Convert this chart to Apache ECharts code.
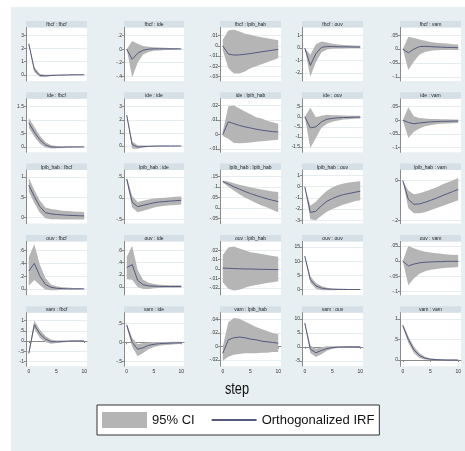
<!DOCTYPE html>
<html><head><meta charset="utf-8">
<script src="https://cdn.jsdelivr.net/npm/echarts@6/dist/echarts.min.js"></script>
<style>html,body{margin:0;padding:0;background:#fff}#c{width:465px;height:451px}</style>
</head><body><div id="c"></div>
<script>
const variables = ['fbcf', 'ide', 'lpib_hab', 'ouv', 'vam'];
const steps = ['0', '1', '2', '3', '4', '5', '6', '7', '8', '9', '10'];

// impulse fbcf
const irf_fbcf_fbcf = [2.35, 0.4, -0.05, -0.08, -0.05, -0.03, -0.02, -0.01, 0, 0, 0];
const lo_fbcf_fbcf = [2.28, 0.22, -0.17, -0.15, -0.1, -0.07, -0.05, -0.04, -0.03, -0.02, -0.02];
const hi_fbcf_fbcf = [2.42, 0.6, 0.07, 0.0, 0.0, 0.01, 0.01, 0.01, 0.02, 0.02, 0.02];
const irf_fbcf_ide = [0, -0.15, -0.06, -0.015, 0.0, 0.005, 0.005, 0.005, 0.005, 0.003, 0.003];
const lo_fbcf_ide = [0, -0.42, -0.2, -0.08, -0.04, -0.025, -0.018, -0.014, -0.012, -0.01, -0.01];
const hi_fbcf_ide = [0, 0.12, 0.08, 0.045, 0.035, 0.028, 0.024, 0.021, 0.019, 0.017, 0.016];
const irf_fbcf_lpib_hab = [0, -0.008, -0.009, -0.0088, -0.0082, -0.0075, -0.0067, -0.0058, -0.005, -0.0042, -0.0035];
const lo_fbcf_lpib_hab = [-0.004, -0.022, -0.027, -0.027, -0.025, -0.022, -0.02, -0.018, -0.016, -0.014, -0.012];
const hi_fbcf_lpib_hab = [0.006, 0.015, 0.016, 0.014, 0.012, 0.011, 0.0095, 0.0085, 0.0075, 0.0065, 0.0055];
const irf_fbcf_ouv = [0, -1.4, -0.45, 0.05, 0.12, 0.12, 0.1, 0.1, 0.09, 0.08, 0.08];
const lo_fbcf_ouv = [0, -2.3, -1.15, -0.35, -0.12, -0.06, -0.04, -0.03, -0.02, -0.02, -0.02];
const hi_fbcf_ouv = [0, -0.55, 0.3, 0.52, 0.45, 0.35, 0.28, 0.24, 0.22, 0.2, 0.18];
const irf_fbcf_vam = [0, -0.013, 0.0, 0.009, 0.01, 0.009, 0.008, 0.007, 0.006, 0.006, 0.005];
const lo_fbcf_vam = [0, -0.075, -0.045, -0.02, -0.01, -0.006, -0.004, -0.003, -0.003, -0.003, -0.003];
const hi_fbcf_vam = [0, 0.045, 0.04, 0.035, 0.03, 0.026, 0.023, 0.021, 0.02, 0.018, 0.017];

// impulse ide
const irf_ide_fbcf = [0.9, 0.55, 0.27, 0.08, 0.0, -0.01, -0.01, 0, 0, 0, 0];
const lo_ide_fbcf = [0.72, 0.38, 0.12, -0.02, -0.06, -0.05, -0.04, -0.03, -0.02, -0.02, -0.02];
const hi_ide_fbcf = [1.08, 0.75, 0.42, 0.18, 0.06, 0.03, 0.02, 0.02, 0.02, 0.02, 0.02];
const irf_ide_ide = [2.35, 0.1, -0.08, -0.05, -0.02, -0.01, 0, 0, 0, 0, 0];
const lo_ide_ide = [2.28, -0.2, -0.2, -0.12, -0.07, -0.05, -0.04, -0.03, -0.02, -0.02, -0.02];
const hi_ide_ide = [2.42, 0.35, 0.05, 0.03, 0.02, 0.02, 0.02, 0.02, 0.02, 0.02, 0.02];
const irf_ide_lpib_hab = [0, 0.0088, 0.0075, 0.0063, 0.0053, 0.0045, 0.0037, 0.003, 0.0025, 0.002, 0.0017];
const lo_ide_lpib_hab = [-0.001, -0.003, -0.0058, -0.006, -0.0058, -0.0055, -0.005, -0.0047, -0.0043, -0.004, -0.0037];
const hi_ide_lpib_hab = [0.002, 0.0195, 0.02, 0.018, 0.016, 0.014, 0.012, 0.011, 0.0095, 0.0085, 0.0075];
const irf_ide_ouv = [0, -0.55, -0.5, -0.25, -0.12, -0.08, -0.05, -0.04, -0.03, -0.02, -0.02];
const lo_ide_ouv = [0, -1.55, -1.05, -0.55, -0.35, -0.25, -0.18, -0.14, -0.12, -0.1, -0.09];
const hi_ide_ouv = [0, 0.45, -0.02, 0.05, 0.1, 0.08, 0.07, 0.06, 0.05, 0.05, 0.05];
const irf_ide_vam = [0, -0.008, -0.013, -0.01, -0.008, -0.006, -0.005, -0.004, -0.004, -0.003, -0.003];
const lo_ide_vam = [0, -0.065, -0.042, -0.03, -0.022, -0.018, -0.015, -0.013, -0.012, -0.011, -0.01];
const hi_ide_vam = [0, 0.048, 0.015, 0.008, 0.006, 0.005, 0.005, 0.004, 0.004, 0.003, 0.003];

// impulse lpib_hab
const irf_lpib_hab_fbcf = [0.8, 0.52, 0.27, 0.12, 0.09, 0.075, 0.065, 0.055, 0.05, 0.045, 0.04];
const lo_lpib_hab_fbcf = [0.64, 0.36, 0.12, -0.02, -0.04, -0.045, -0.05, -0.05, -0.05, -0.05, -0.05];
const hi_lpib_hab_fbcf = [0.98, 0.68, 0.42, 0.25, 0.21, 0.19, 0.17, 0.16, 0.15, 0.14, 0.135];
const irf_lpib_hab_ide = [0.45, -0.1, -0.2, -0.17, -0.14, -0.11, -0.09, -0.08, -0.07, -0.06, -0.05];
const lo_lpib_hab_ide = [0.4, -0.22, -0.33, -0.3, -0.26, -0.22, -0.2, -0.18, -0.17, -0.16, -0.15];
const hi_lpib_hab_ide = [0.5, 0.05, -0.09, -0.06, -0.03, -0.01, 0.0, 0.01, 0.02, 0.03, 0.04];
const irf_lpib_hab_lpib_hab = [0.125, 0.113, 0.1, 0.089, 0.078, 0.068, 0.059, 0.051, 0.043, 0.036, 0.03];
const lo_lpib_hab_lpib_hab = [0.12, 0.1, 0.082, 0.065, 0.05, 0.036, 0.024, 0.012, 0.002, -0.01, -0.02];
const hi_lpib_hab_lpib_hab = [0.13, 0.125, 0.117, 0.11, 0.104, 0.098, 0.092, 0.087, 0.082, 0.078, 0.075];
const irf_lpib_hab_ouv = [0, -2.3, -2.2, -1.7, -1.3, -1.05, -0.85, -0.7, -0.6, -0.5, -0.4];
const lo_lpib_hab_ouv = [0, -2.9, -3.0, -2.6, -2.25, -2.0, -1.8, -1.6, -1.45, -1.3, -1.2];
const hi_lpib_hab_ouv = [0, -1.7, -1.35, -0.8, -0.35, -0.05, 0.15, 0.28, 0.38, 0.45, 0.5];
const irf_lpib_hab_vam = [0, -0.095, -0.12, -0.118, -0.11, -0.1, -0.09, -0.078, -0.067, -0.056, -0.045];
const lo_lpib_hab_vam = [0, -0.14, -0.165, -0.165, -0.16, -0.15, -0.14, -0.13, -0.12, -0.11, -0.1];
const hi_lpib_hab_vam = [0, -0.05, -0.07, -0.065, -0.055, -0.045, -0.035, -0.022, -0.01, 0.0, 0.012];

// impulse ouv
const irf_ouv_fbcf = [0.28, 0.4, 0.2, 0.07, 0.025, 0.01, 0.005, 0, 0, 0, 0];
const lo_ouv_fbcf = [0.05, 0.14, 0.06, -0.01, -0.02, -0.02, -0.015, -0.01, -0.01, -0.01, -0.01];
const hi_ouv_fbcf = [0.5, 0.7, 0.38, 0.17, 0.07, 0.04, 0.025, 0.02, 0.015, 0.015, 0.015];
const irf_ouv_ide = [0.32, 0.37, 0.11, 0.04, 0.02, 0.015, 0.012, 0.01, 0.01, 0.01, 0.01];
const lo_ouv_ide = [0.13, 0.12, 0.0, -0.03, -0.03, -0.02, -0.015, -0.01, -0.01, -0.01, -0.01];
const hi_ouv_ide = [0.5, 0.68, 0.28, 0.12, 0.07, 0.05, 0.04, 0.035, 0.03, 0.03, 0.03];
const irf_ouv_lpib_hab = [0.001, 0.0008, 0.0005, 0.0003, 0.0001, 0, -0.0002, -0.0003, -0.0004, -0.0005, -0.0006];
const lo_ouv_lpib_hab = [-0.014, -0.021, -0.023, -0.022, -0.02, -0.018, -0.017, -0.016, -0.015, -0.014, -0.013];
const hi_ouv_lpib_hab = [0.015, 0.023, 0.024, 0.022, 0.02, 0.018, 0.017, 0.016, 0.015, 0.014, 0.013];
const irf_ouv_ouv = [11.8, 3.5, 1.3, 0.5, 0.2, 0.1, 0.05, 0.02, 0, 0, 0];
const lo_ouv_ouv = [11.6, 2.4, 0.3, -0.3, -0.3, -0.25, -0.2, -0.2, -0.15, -0.15, -0.15];
const hi_ouv_ouv = [12.0, 4.7, 2.3, 1.2, 0.6, 0.4, 0.3, 0.25, 0.2, 0.2, 0.2];
const irf_ouv_vam = [0, -0.016, -0.01, -0.006, -0.004, -0.003, -0.002, -0.002, -0.001, -0.001, -0.001];
const lo_ouv_vam = [0, -0.08, -0.058, -0.042, -0.034, -0.029, -0.026, -0.024, -0.022, -0.021, -0.02];
const hi_ouv_vam = [0, 0.05, 0.042, 0.036, 0.031, 0.028, 0.026, 0.024, 0.022, 0.021, 0.02];

// impulse vam
const irf_vam_fbcf = [-0.6, 0.8, 0.35, 0.1, -0.03, -0.04, -0.02, -0.01, 0, 0, 0];
const lo_vam_fbcf = [-0.7, 0.6, 0.15, -0.05, -0.13, -0.1, -0.07, -0.05, -0.04, -0.04, -0.04];
const hi_vam_fbcf = [-0.5, 1.0, 0.55, 0.25, 0.07, 0.03, 0.03, 0.03, 0.04, 0.04, 0.04];
const irf_vam_ide = [0.45, 0.0, -0.18, -0.14, -0.08, -0.05, -0.035, -0.025, -0.02, -0.015, -0.01];
const lo_vam_ide = [0.4, -0.12, -0.36, -0.28, -0.18, -0.12, -0.09, -0.07, -0.06, -0.05, -0.04];
const hi_vam_ide = [0.5, 0.12, -0.05, -0.02, 0.0, 0.01, 0.01, 0.01, 0.015, 0.015, 0.015];
const irf_vam_lpib_hab = [-0.01, 0.01, 0.013, 0.014, 0.013, 0.011, 0.01, 0.008, 0.007, 0.006, 0.005];
const lo_vam_lpib_hab = [-0.021, -0.015, -0.012, -0.011, -0.01, -0.01, -0.01, -0.009, -0.009, -0.008, -0.008];
const hi_vam_lpib_hab = [0.0, 0.036, 0.042, 0.041, 0.037, 0.033, 0.029, 0.026, 0.023, 0.02, 0.018];
const irf_vam_ouv = [8.5, -0.8, -2.1, -1.3, -0.6, -0.25, -0.1, -0.05, 0, 0, 0];
const lo_vam_ouv = [8.2, -2.2, -3.6, -2.6, -1.4, -0.7, -0.4, -0.3, -0.25, -0.2, -0.2];
const hi_vam_ouv = [8.8, 0.6, -0.7, -0.1, 0.2, 0.2, 0.2, 0.2, 0.2, 0.2, 0.2];
const irf_vam_vam = [0.84, 0.5, 0.25, 0.11, 0.045, 0.02, 0.01, 0.005, 0, 0, 0];
const lo_vam_vam = [0.8, 0.42, 0.17, 0.05, 0.01, 0.0, -0.005, -0.005, -0.005, -0.005, -0.005];
const hi_vam_vam = [0.88, 0.58, 0.33, 0.17, 0.08, 0.04, 0.025, 0.015, 0.01, 0.01, 0.01];

// y-axis tick values per panel (row = impulse, column = response)
const yTicks = [
  [[0, 1, 2, 3], [-0.4, -0.2, 0, 0.2], [-0.03, -0.02, -0.01, 0, 0.01], [-2, -1, 0, 1], [-0.1, -0.05, 0, 0.05]],
  [[0, 0.5, 1, 1.5], [0, 1, 2, 3], [-0.01, 0, 0.01, 0.02], [-1.5, -1, -0.5, 0, 0.5], [-0.1, -0.05, 0, 0.05]],
  [[0, 0.5, 1], [-0.5, 0, 0.5], [-0.05, 0, 0.05, 0.1, 0.15], [-3, -2, -1, 0, 1], [-0.2, 0]],
  [[0, 0.2, 0.4, 0.6], [0, 0.2, 0.4, 0.6], [-0.02, -0.01, 0, 0.01, 0.02], [0, 5, 10, 15], [-0.1, -0.05, 0, 0.05]],
  [[-1, -0.5, 0, 0.5, 1], [-0.5, 0, 0.5], [-0.02, 0, 0.02, 0.04], [-5, 0, 5, 10], [0, 0.5, 1]]
];
// y-axis extents per panel
const yExtent = [
  [[-0.47, 3.59], [-0.47, 0.32], [-0.0344, 0.018], [-2.65, 1.65], [-0.115, 0.078]],
  [[-0.2, 1.79], [-0.48, 3.6], [-0.0123, 0.0247], [-1.76, 0.89], [-0.118, 0.079]],
  [[-0.15, 1.17], [-0.6, 0.66], [-0.074, 0.179], [-3.3, 1.49], [-0.217, 0.052]],
  [[-0.094, 0.744], [-0.128, 0.75], [-0.0276, 0.0295], [-1.9, 17], [-0.112, 0.065]],
  [[-1.23, 1.385], [-0.623, 0.775], [-0.029, 0.05], [-6.9, 12.2], [-0.15, 1.15]]
];
const stepTicks = 4; // label every 5th step: 0, 5, 10

const PANELS = {};
[
  ['fbcf_fbcf', irf_fbcf_fbcf, lo_fbcf_fbcf, hi_fbcf_fbcf],
  ['fbcf_ide', irf_fbcf_ide, lo_fbcf_ide, hi_fbcf_ide],
  ['fbcf_lpib_hab', irf_fbcf_lpib_hab, lo_fbcf_lpib_hab, hi_fbcf_lpib_hab],
  ['fbcf_ouv', irf_fbcf_ouv, lo_fbcf_ouv, hi_fbcf_ouv],
  ['fbcf_vam', irf_fbcf_vam, lo_fbcf_vam, hi_fbcf_vam],
  ['ide_fbcf', irf_ide_fbcf, lo_ide_fbcf, hi_ide_fbcf],
  ['ide_ide', irf_ide_ide, lo_ide_ide, hi_ide_ide],
  ['ide_lpib_hab', irf_ide_lpib_hab, lo_ide_lpib_hab, hi_ide_lpib_hab],
  ['ide_ouv', irf_ide_ouv, lo_ide_ouv, hi_ide_ouv],
  ['ide_vam', irf_ide_vam, lo_ide_vam, hi_ide_vam],
  ['lpib_hab_fbcf', irf_lpib_hab_fbcf, lo_lpib_hab_fbcf, hi_lpib_hab_fbcf],
  ['lpib_hab_ide', irf_lpib_hab_ide, lo_lpib_hab_ide, hi_lpib_hab_ide],
  ['lpib_hab_lpib_hab', irf_lpib_hab_lpib_hab, lo_lpib_hab_lpib_hab, hi_lpib_hab_lpib_hab],
  ['lpib_hab_ouv', irf_lpib_hab_ouv, lo_lpib_hab_ouv, hi_lpib_hab_ouv],
  ['lpib_hab_vam', irf_lpib_hab_vam, lo_lpib_hab_vam, hi_lpib_hab_vam],
  ['ouv_fbcf', irf_ouv_fbcf, lo_ouv_fbcf, hi_ouv_fbcf],
  ['ouv_ide', irf_ouv_ide, lo_ouv_ide, hi_ouv_ide],
  ['ouv_lpib_hab', irf_ouv_lpib_hab, lo_ouv_lpib_hab, hi_ouv_lpib_hab],
  ['ouv_ouv', irf_ouv_ouv, lo_ouv_ouv, hi_ouv_ouv],
  ['ouv_vam', irf_ouv_vam, lo_ouv_vam, hi_ouv_vam],
  ['vam_fbcf', irf_vam_fbcf, lo_vam_fbcf, hi_vam_fbcf],
  ['vam_ide', irf_vam_ide, lo_vam_ide, hi_vam_ide],
  ['vam_lpib_hab', irf_vam_lpib_hab, lo_vam_lpib_hab, hi_vam_lpib_hab],
  ['vam_ouv', irf_vam_ouv, lo_vam_ouv, hi_vam_ouv],
  ['vam_vam', irf_vam_vam, lo_vam_vam, hi_vam_vam]
].forEach(([k, irf, lo, hi]) => { PANELS[k] = { irf, lo, hi }; });

// ---- layout / style ----
const COL_LEFT = [26, 124, 220, 302, 400];
const COL_W = [61, 60, 61, 61, 61];
const ROW_TOP0 = 21, ROW_STEP = 71.3, TITLE_H = 6.5, PLOT_H = 53.5;
const BG = '#e8eff2', STRIP = '#d5e0e6', BAND = '#b5b5b5', LINE = '#545a80', AXIS = '#8a8a8a', GRIDC = '#e6edf0';
const SMALL_FONT = 'Liberation Sans, Arial, sans-serif';
const BIG_FONT = '"Liberation Sans", Arial, sans-serif';

function fmt(v) {
  const s = String(+Number(v).toPrecision(6));
  return s.replace(/^(-?)0\./, '$1.');
}

const grids = [], xAxes = [], yAxes = [], series = [];
const graphics = [{ type: 'rect', silent: true, z: -10, shape: { x: 11, y: 7, width: 454, height: 444 }, style: { fill: BG } }];

variables.forEach((imp, r) => {
  variables.forEach((resp, c) => {
    const k = r * 5 + c;
    const p = PANELS[imp + '_' + resp];
    const top = ROW_TOP0 + ROW_STEP * r;
    const left = COL_LEFT[c], w = COL_W[c];
    const bottomRow = r === 4;
    grids.push({ left: left, top: top + TITLE_H, width: w, height: PLOT_H, show: true, backgroundColor: '#fff', borderWidth: 0 });
    graphics.push({ type: 'rect', silent: true, shape: { x: left, y: top, width: w, height: TITLE_H }, style: { fill: STRIP } });
    graphics.push({ type: 'text', silent: true, x: left + w / 2, y: top + TITLE_H / 2 + 0.3,
      style: { text: imp + ' : ' + resp, fontSize: 5, fontFamily: SMALL_FONT, fill: '#222', align: 'center', verticalAlign: 'middle' } });
    xAxes.push({
      type: 'category', gridIndex: k, data: steps, boundaryGap: true, show: bottomRow,
      axisLine: { show: bottomRow, lineStyle: { color: AXIS, width: 1 } },
      axisTick: { show: bottomRow, alignWithLabel: true, interval: stepTicks, length: 2, lineStyle: { color: AXIS } },
      axisLabel: { show: bottomRow, interval: stepTicks, fontSize: 5, fontFamily: SMALL_FONT, color: '#333', margin: 3 },
      splitLine: { show: false }
    });
    const ticks = yTicks[r][c];
    yAxes.push({
      type: 'value', gridIndex: k, min: yExtent[r][c][0], max: yExtent[r][c][1],
      axisLine: { show: true, lineStyle: { color: AXIS, width: 1 } },
      axisTick: { show: true, length: 2, customValues: ticks, lineStyle: { color: AXIS } },
      axisLabel: { show: true, fontSize: 5, fontFamily: SMALL_FONT, color: '#333', margin: 2, customValues: ticks, formatter: fmt },
      splitLine: { show: true, lineStyle: { color: GRIDC, width: 1 } }
    });
    series.push({ name: 'lower', type: 'line', xAxisIndex: k, yAxisIndex: k, data: p.lo, stack: 'band' + k, stackStrategy: 'all',
      symbol: 'none', lineStyle: { opacity: 0 }, silent: true, z: 2 });
    series.push({ name: '95% CI', type: 'line', xAxisIndex: k, yAxisIndex: k, data: p.hi.map((v, i) => v - p.lo[i]), stack: 'band' + k, stackStrategy: 'all',
      symbol: 'none', lineStyle: { opacity: 0 }, areaStyle: { color: BAND, opacity: 1 }, itemStyle: { color: BAND }, silent: true, z: 2 });
    series.push({ name: 'Orthogonalized IRF', type: 'line', xAxisIndex: k, yAxisIndex: k, data: p.irf,
      symbol: 'none', lineStyle: { color: LINE, width: 1 }, itemStyle: { color: LINE }, silent: true, z: 3 });
  });
});

graphics.push({ type: 'text', silent: true, x: 237, y: 390, scaleX: 0.8, scaleY: 1,
  style: { text: 'step', fontSize: 16, fontFamily: BIG_FONT, fill: '#111', align: 'center', verticalAlign: 'middle' } });

const chart = echarts.init(document.getElementById('c'), null, { width: 465, height: 451, renderer: 'canvas' });
chart.setOption({
  animation: false,
  backgroundColor: '#fff',
  grid: grids, xAxis: xAxes, yAxis: yAxes, series: series, graphic: graphics,
  legend: {
    left: 97, top: 405, orient: 'horizontal', padding: [7, 5, 7, 5], itemWidth: 45, itemHeight: 16, itemGap: 16,
    backgroundColor: '#fff', borderColor: '#333', borderWidth: 1, borderRadius: 0, selectedMode: false,
    textStyle: { fontSize: 13, color: '#111', fontFamily: BIG_FONT },
    data: [
      { name: '95% CI', icon: 'rect', itemStyle: { color: BAND } },
      { name: 'Orthogonalized IRF', itemStyle: { opacity: 0 } }
    ]
  }
});
</script></body></html>
